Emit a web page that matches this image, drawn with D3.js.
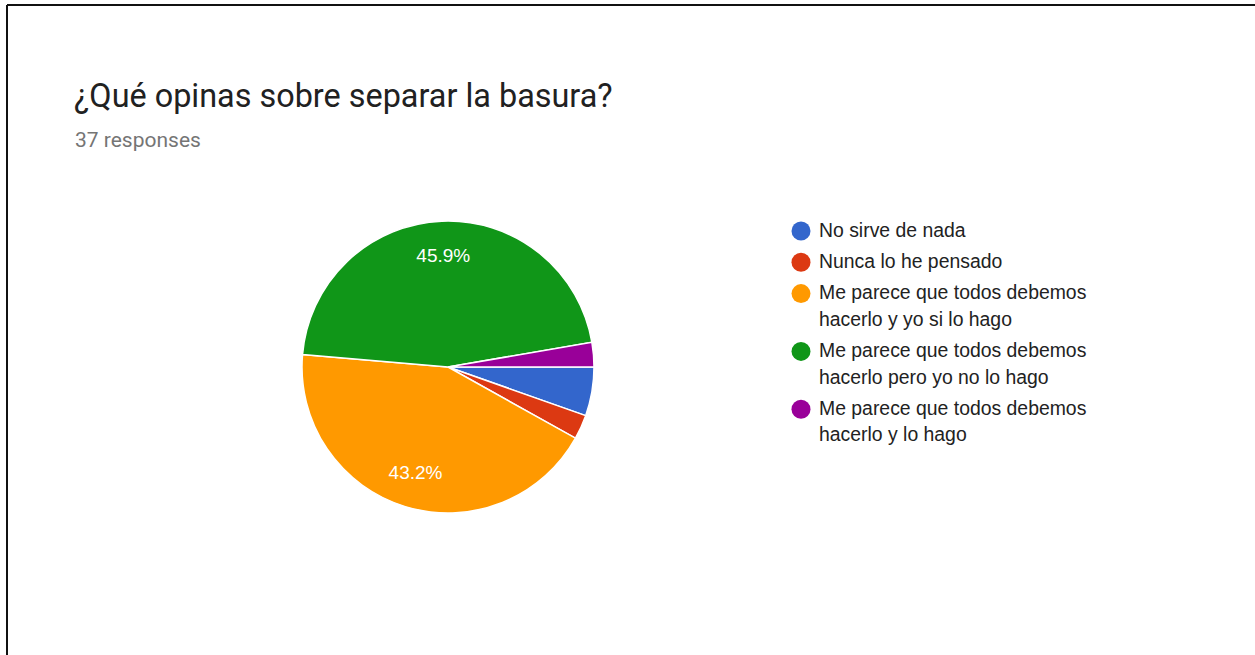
<!DOCTYPE html>
<html>
<head>
<meta charset="utf-8">
<script src="https://cdn.jsdelivr.net/npm/d3@7"></script>
<style>
  body { margin: 0; background: #fff; }
  svg { display: block; }
</style>
</head>
<body>
<div id="chart"></div>
<script>
// answers and counts (37 responses)
const answers = [
  "No sirve de nada",
  "Nunca lo he pensado",
  "Me parece que todos debemos hacerlo y yo si lo hago",
  "Me parece que todos debemos hacerlo pero yo no lo hago",
  "Me parece que todos debemos hacerlo y lo hago"
];
const counts = [2, 1, 16, 17, 1];
const legendLines = [
  ["No sirve de nada"],
  ["Nunca lo he pensado"],
  ["Me parece que todos debemos", "hacerlo y yo si lo hago"],
  ["Me parece que todos debemos", "hacerlo pero yo no lo hago"],
  ["Me parece que todos debemos", "hacerlo y lo hago"]
];
const colors = ["#3366cc", "#dc3912", "#ff9900", "#109618", "#990099"];
const title = "¿Qué opinas sobre separar la basura?";
const subtitle = "37 responses";

const w = 1255, h = 655;
const total = d3.sum(counts);

const svg = d3.select("#chart")
  .append("svg")
  .attr("width", w)
  .attr("height", h);

// frame (only top and left edges show in the screenshot)
svg.append("line")
  .attr("x1", 7).attr("y1", 5).attr("x2", w).attr("y2", 5)
  .attr("stroke", "#111").attr("stroke-width", 2);
svg.append("line")
  .attr("x1", 7).attr("y1", 5).attr("x2", 7).attr("y2", h)
  .attr("stroke", "#111").attr("stroke-width", 2);

svg.append("text")
  .attr("x", 74).attr("y", 107)
  .style("font-family", "Roboto")
  .style("font-size", "32.4px")
  .attr("fill", "#212121")
  .text(title);

svg.append("text")
  .attr("x", 75).attr("y", 147)
  .style("font-family", "Roboto")
  .style("font-size", "21px")
  .attr("fill", "#757575")
  .text(subtitle);

// pie
const cx = 448, cy = 367, r = 146;
const data = answers.map((a, i) => ({ answer: a, value: counts[i], color: colors[i] }));

const pie = d3.pie()
  .value(d => d.value)
  .sort(null)
  .startAngle(Math.PI / 2)
  .endAngle(Math.PI / 2 + 2 * Math.PI);

const arc = d3.arc().innerRadius(0).outerRadius(r);
const labelArc = d3.arc().innerRadius(r * 0.76).outerRadius(r * 0.76);

const g = svg.append("g")
  .attr("transform", `translate(${cx},${cy})`);

const arcs = pie(data);

g.selectAll("path")
  .data(arcs)
  .enter()
  .append("path")
  .attr("d", arc)
  .attr("fill", d => d.data.color)
  .attr("stroke", "#fff")
  .attr("stroke-width", 1.5);

g.selectAll("text.pct")
  .data(arcs.filter(d => d.data.value / total > 0.1))
  .enter()
  .append("text")
  .attr("class", "pct")
  .attr("transform", d => `translate(${labelArc.centroid(d)})`)
  .attr("text-anchor", "middle")
  .attr("dy", "0.3em")
  .style("font-family", "Liberation Sans, Arial, sans-serif")
  .style("font-size", "19px")
  .attr("fill", "#fff")
  .text(d => (d.data.value / total * 100).toFixed(1) + "%");

// legend
const legend = svg.append("g");
let y = 230;
legendLines.forEach((lines, i) => {
  const item = legend.append("g").attr("transform", `translate(0,${y})`);
  item.append("circle")
    .attr("cx", 801).attr("cy", 1)
    .attr("r", 9.5)
    .attr("fill", colors[i]);
  lines.forEach((t, j) => {
    item.append("text")
      .attr("x", 819)
      .attr("y", j * 26.5)
      .attr("dy", "0.35em")
      .style("font-family", "Liberation Sans, Arial, sans-serif")
      .style("font-size", "19.4px")
      .attr("fill", "#222")
      .text(t);
  });
  y += lines.length * 26.5 + 4.8;
});
</script>
</body>
</html>
